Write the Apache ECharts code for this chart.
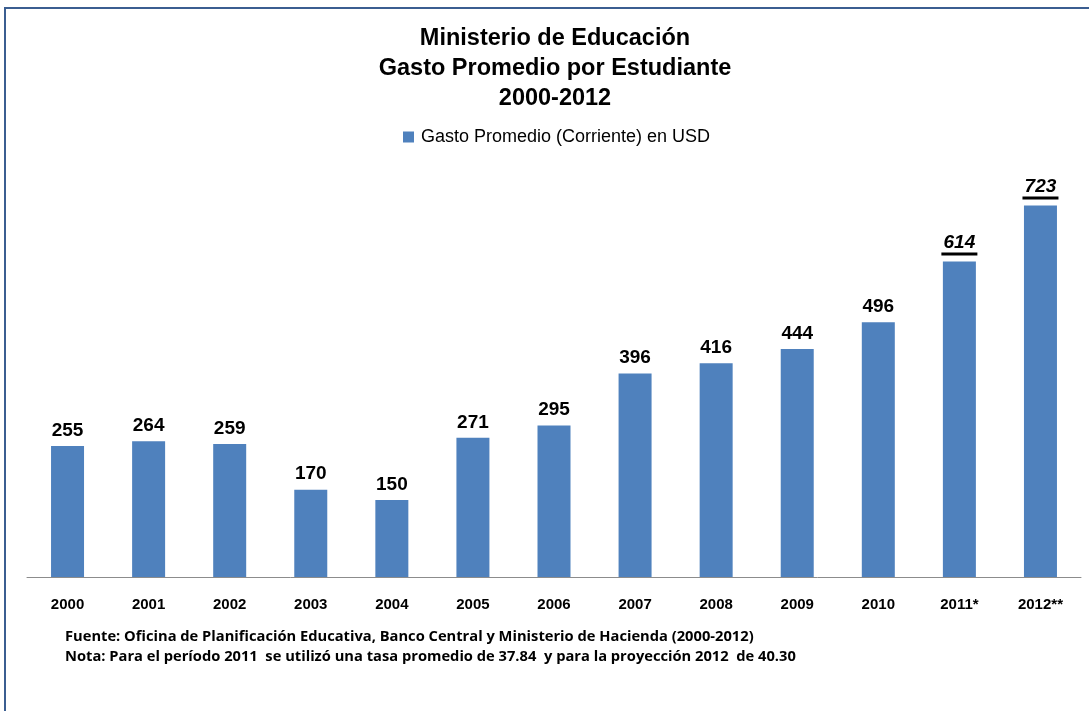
<!DOCTYPE html>
<html>
<head>
<meta charset="utf-8">
<script src="https://cdn.jsdelivr.net/npm/echarts@6/dist/echarts.min.js"></script>
<style>
  html, body { margin: 0; padding: 0; background: #fff; }
  #wrap { position: relative; width: 1089px; height: 711px; overflow: hidden; }
  #frame { position: absolute; left: 4px; top: 7px; width: 1200px; height: 800px;
           border-left: 2px solid #3b5e91; border-top: 2px solid #3b5e91; }
  #chart { position: absolute; left: 0; top: 0; width: 1089px; height: 711px; }
</style>
</head>
<body>
<div id="wrap">
  <div id="frame"></div>
  <div id="chart"></div>
</div>
<script>
const years = ['2000', '2001', '2002', '2003', '2004', '2005', '2006', '2007', '2008', '2009', '2010', '2011*', '2012**']
const gasto = [255, 264, 259, 170, 150, 271, 295, 396, 416, 444, 496, 614, 723]
// the last two values are projections: italic + underlined label
const projected = [false, false, false, false, false, false, false, false, false, false, false, true, true]

const seriesName = 'Gasto Promedio (Corriente) en USD'
const notes = [
  'Fuente: Oficina de Planificación Educativa, Banco Central y Ministerio de Hacienda (2000-2012)',
  'Nota: Para el período 2011  se utilizó una tasa promedio de 37.84  y para la proyección 2012  de 40.30'
]

const myChart = echarts.init(document.getElementById('chart'))

const barData = gasto.map((v, i) => {
  if (!projected[i]) return v
  return {
    value: v,
    label: {
      formatter: '{v|{c}}\n{u|}',
      rich: {
        v: { fontFamily: 'Liberation Sans', fontWeight: 'bold', fontStyle: 'italic', fontSize: 19, color: '#000', lineHeight: 20 },
        u: { backgroundColor: '#000', width: 36, height: 3, lineHeight: 3 }
      }
    }
  }
})

const option = {
  animation: false,
  title: [
    {
      text: 'Ministerio de Educación\nGasto Promedio por Estudiante\n2000-2012',
      left: 550,
      top: 19,
      textAlign: 'center',
      textStyle: {
        fontFamily: 'Liberation Sans',
        fontWeight: 'bold',
        fontSize: 23.5,
        lineHeight: 30,
        color: '#000'
      }
    },
    {
      text: notes.join('\n'),
      left: 60,
      top: 622,
      textStyle: {
        fontFamily: 'Open Sans',
        fontWeight: 'bold',
        fontSize: 14.7,
        lineHeight: 20,
        color: '#000'
      }
    }
  ],
  legend: {
    data: [seriesName],
    top: 123,
    left: 398,
    icon: 'rect',
    itemWidth: 11,
    itemHeight: 11,
    itemGap: 6,
    textStyle: {
      fontFamily: 'Liberation Sans',
      fontSize: 18,
      padding: [0, 0, 0, 2],
      color: '#000'
    }
  },
  grid: {
    left: 27,
    right: 8,
    top: 166,
    bottom: 134,
    containLabel: false
  },
  xAxis: {
    type: 'category',
    data: years,
    axisLine: { lineStyle: { color: '#8c8c8c', width: 1 } },
    axisTick: { show: false },
    axisLabel: {
      margin: 20,
      fontFamily: 'Liberation Sans',
      fontWeight: 'bold',
      fontSize: 15,
      color: '#000'
    }
  },
  yAxis: {
    type: 'value',
    min: 0,
    max: 800,
    show: false,
    splitLine: { show: false }
  },
  series: [
    {
      name: seriesName,
      type: 'bar',
      data: barData,
      barWidth: 33,
      itemStyle: { color: '#4f81bd' },
      label: {
        show: true,
        position: 'top',
        distance: 6,
        fontFamily: 'Liberation Sans',
        fontWeight: 'bold',
        fontSize: 19,
        color: '#000'
      }
    }
  ]
}

myChart.setOption(option)
</script>
</body>
</html>
